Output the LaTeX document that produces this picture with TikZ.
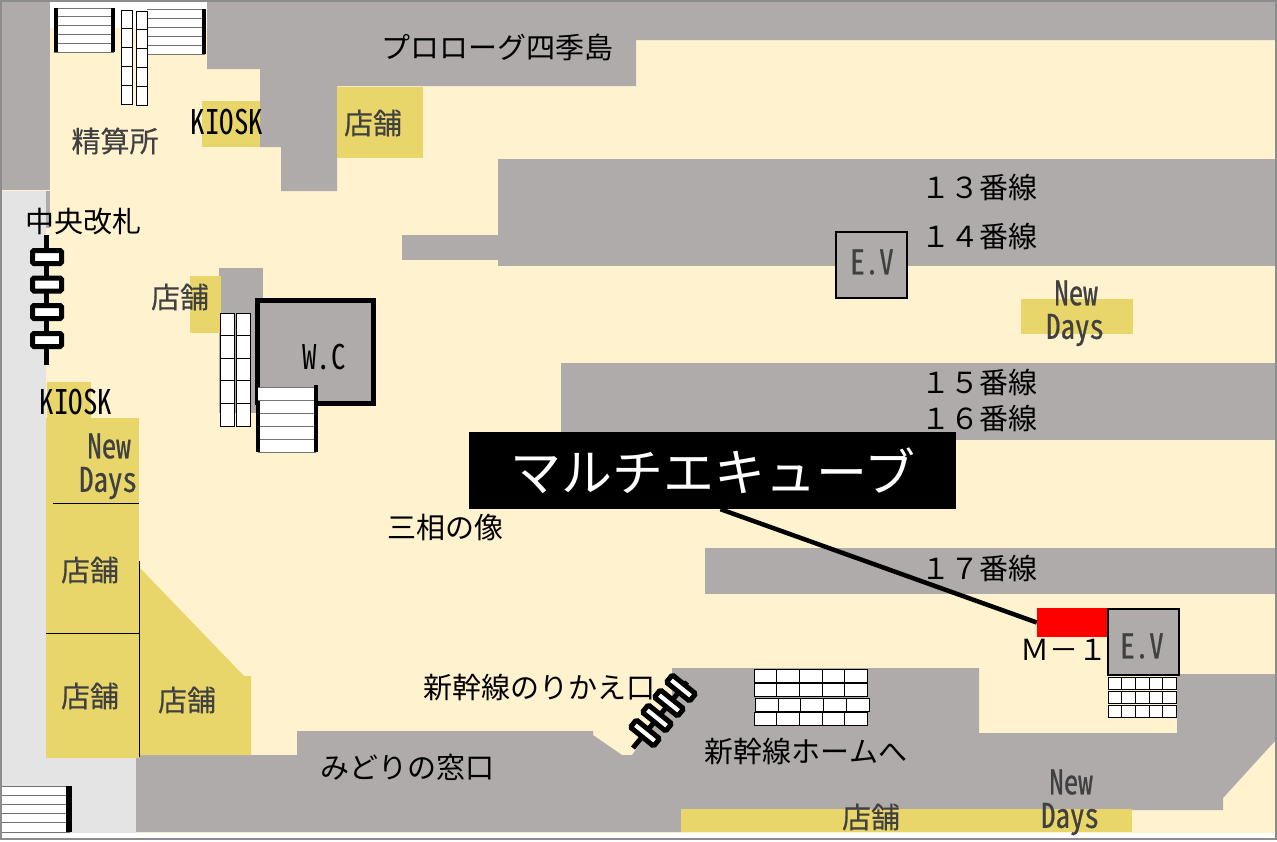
\documentclass[tikz,border=0pt]{standalone}
\usepackage{fontspec}
\usepackage{xcolor}
\setmainfont{Noto Sans CJK JP}
\newfontfamily\shopfont[FakeBold=0.3]{Noto Sans CJK JP}
\newfontfamily\halffont[RawFeature=+hwid,FakeStretch=0.85]{Noto Sans CJK JP}
\newfontfamily\halfbold[RawFeature=+hwid,FakeStretch=0.85,FakeBold=0.5]{Noto Sans CJK JP}
\definecolor{creamfloor}{HTML}{FFF2CF}
\definecolor{trackgray}{HTML}{AFABAB}
\definecolor{shopyellow}{HTML}{E9D66B}
\definecolor{palegray}{HTML}{E4E4E4}
\definecolor{framegray}{HTML}{8C8C8C}
\definecolor{shoptext}{HTML}{404040}
\tikzset{
	lbl/.style={inner sep=0pt, text=black, font=\fontsize{29}{34}\selectfont},
	shoplbl/.style={inner sep=0pt, text=shoptext, font=\shopfont\fontsize{29}{34}\selectfont},
	latinlbl/.style={inner sep=0pt, text=black, font=\halffont\fontsize{34}{40}\selectfont},
	shoplatin/.style={inner sep=0pt, text=shoptext, font=\halfbold\fontsize{34}{40}\selectfont},
	gatebar/.style={draw=black, fill=white, line width=5pt, rounded corners=1.5pt, minimum width=29pt, minimum height=13pt, inner sep=0pt},
	smallbar/.style={gatebar, minimum width=30pt, minimum height=9.5pt},
	stepline/.style={draw=black!55, line width=1pt},
	stepedge/.style={draw=black, line width=4pt},
	esccell/.style={draw=black, fill=white, line width=1pt},
	evbox/.style={draw=black, fill=trackgray, line width=2pt, inner sep=0pt}
}
\begin{document}
\begin{tikzpicture}[x=1pt,y=-1pt]
	\useasboundingbox (0,0) rectangle (1277,841);
	% floor
	\fill[white] (0,0) rectangle (1277,841);
	\fill[creamfloor] (2,28) rectangle (1275,833);
	\fill[white] (50,2) rectangle (207,28);
	\fill[trackgray] (2,2) rectangle (50,190);
	\fill[palegray] (2,191) -- (46,191) -- (46,758) -- (136,758) -- (136,833) -- (2,833) -- cycle;
	\fill[trackgray] (46,191) rectangle (50,228);
	% walls and platforms
	\fill[trackgray] (207,2) -- (1275,2) -- (1275,40) -- (636,40) -- (636,86) -- (337,86) -- (337,191) -- (281,191) -- (281,147) -- (260,147) -- (260,69) -- (207,69) -- cycle;
	\fill[trackgray] (498,159) rectangle (1275,266);
	\fill[trackgray] (402,235) rectangle (498,260);
	\fill[trackgray] (561,363) rectangle (1275,440);
	\fill[trackgray] (705,548) rectangle (1275,594);
	\fill[trackgray] (219,268) rectangle (263,413);
	\fill[trackgray] (136,755) -- (297,755) -- (297,731) -- (593,731) -- (593,735) -- (622,755) -- (632,755) -- (672,700) -- (672,668) -- (979,668) -- (979,733) -- (1177,733) -- (1177,674) -- (1275,674) -- (1275,741) -- (1223,798) -- (1223,810) -- (681,810) -- (681,832) -- (136,832) -- cycle;
	% shops
	\fill[shopyellow] (202,101) rectangle (260,147);
	\fill[shopyellow] (337,87) rectangle (423,158);
	\fill[shopyellow] (190,276) rectangle (221,333);
	\fill[shopyellow] (47,382) rectangle (91,418);
	\fill[shopyellow] (46,418) rectangle (139,758);
	\fill[shopyellow] (140,568) -- (244,676) -- (251,676) -- (251,755) -- (140,755) -- cycle;
	\fill[shopyellow] (1021,299) rectangle (1133,334);
	\fill[shopyellow] (681,809) rectangle (1132,832);
	\draw[line width=1pt] (53,503) -- (139,503);
	\draw[line width=1pt] (46,633.5) -- (139,633.5);
	\draw[line width=1pt] (139.5,561) -- (139.5,757);
	% W.C
	\draw[fill=trackgray, line width=5pt] (257.5,405) -- (257.5,300.5) -- (373.5,300.5) -- (373.5,403.5) -- (316,403.5);
	% stairs
	\fill[white] (54,8) rectangle (114,52);
	\foreach \i in {0,...,5} \draw[stepline] (54,8+8.8*\i) -- (114,8+8.8*\i);
	\draw[stepedge] (55.5,8) -- (55.5,52);
	\draw[stepedge] (112.5,8) -- (112.5,52);
	\fill[white] (147,9) rectangle (205,54);
	\foreach \i in {0,...,5} \draw[stepline] (147,9+9*\i) -- (205,9+9*\i);
	\draw[stepedge] (204,9) -- (204,54);
	\fill[white] (258,387) rectangle (316,452);
	\foreach \i in {0,...,5} \draw[stepline] (258,387+13*\i) -- (316,387+13*\i);
	\draw[stepedge] (257.5,401) -- (257.5,452);
	\draw[stepedge] (316,385) -- (316,452);
	\fill[white] (2,786) rectangle (70,832);
	\foreach \i in {0,...,5} \draw[stepline] (2,786+9.2*\i) -- (70,786+9.2*\i);
	\draw[line width=5.5pt] (69,786) -- (69,832);
	% escalators
	\foreach \xa/\ya in {121/10,136/11}
		\foreach \i in {0,...,4} \draw[esccell] (\xa,\ya+18.8*\i) rectangle +(11,18.8);
	\foreach \xa in {220.5,236.5}
		\foreach \i in {0,...,4} \draw[esccell] (\xa,313+22.6*\i) rectangle +(13.5,22.6);
	\foreach \xa/\ya in {754/669,754/683,755.5/698,754/712}
		\foreach \i in {0,...,4} \draw[esccell] (\xa+22.7*\i,\ya) rectangle +(22.7,13);
	\foreach \ya in {677,691,705}
		\foreach \i in {0,...,4} \draw[esccell] (1108+13.7*\i,\ya) rectangle +(13.7,12.5);
	% gates
	\coordinate (gatetop) at (46.5,235);
	\coordinate (gatebot) at (46.5,365);
	\draw[line width=5pt] (gatetop) -- (gatebot);
	\node[gatebar] (gate1) at (47,257) {};
	\node[gatebar] (gate2) at (47,284.5) {};
	\node[gatebar] (gate3) at (47,312) {};
	\node[gatebar] (gate4) at (47,340) {};
	\coordinate (shintop) at (687,682);
	\coordinate (shinbot) at (633,748);
	\draw[line width=5pt] (shintop) -- (shinbot);
	\node[smallbar, rotate=-39] (shin1) at (645,733) {};
	\node[smallbar, rotate=-39] (shin2) at (657,718) {};
	\node[smallbar, rotate=-39] (shin3) at (669,703) {};
	\node[smallbar, rotate=-39] (shin4) at (681,688) {};
	% elevators
	\node[evbox, minimum width=71pt, minimum height=66pt] (ev1) at (871,264.5) {};
	\node[evbox, minimum width=71pt, minimum height=66pt] (ev2) at (1143.5,641.5) {};
	\node[shoplatin] (ev1text) at (872,262) {E.V};
	\node[shoplatin] (ev2text) at (1142,646) {E.V};
	% multicube
	\fill[red] (1037,608) rectangle (1107,637);
	\node[inner sep=0pt, minimum width=70pt, minimum height=29pt] (cubemark) at (1072,622.5) {};
	\node[fill=black, text=white, inner sep=0pt, minimum width=487pt, minimum height=77pt, font=\fontsize{51}{60}\selectfont] (cube) at (712.5,470.5) {マルチエキューブ};
	\draw[line width=4.5pt] ([xshift=8pt]cube.south) -- (cubemark.west);
	% labels
	\node[lbl] (prologue) at (497,47) {プロローグ四季島};
	\node[lbl] (track13) at (979,187) {１３番線};
	\node[lbl] (track14) at (979,236) {１４番線};
	\node[lbl] (track15) at (979,382) {１５番線};
	\node[lbl] (track16) at (979,418) {１６番線};
	\node[lbl] (track17) at (979,568) {１７番線};
	\node[lbl] (central) at (83,222) {中央改札};
	\node[lbl] (sanso) at (445,527) {三相の像};
	\node[lbl] (transfer) at (539,688) {新幹線のりかえ口};
	\node[lbl] (shinhome) at (806,752) {新幹線ホームへ};
	\node[lbl] (midori) at (407,767) {みどりの窓口};
	\node[lbl] (m1) at (1064,650) {Ｍ－１};
	\node[shoplbl] (seisan) at (115,141) {精算所};
	\node[latinlbl] (kiosk1) at (227,122) {KIOSK};
	\node[latinlbl] (kiosk2) at (76,402) {KIOSK};
	\node[latinlbl] (wc) at (324,357) {W.C};
	\node[shoplbl] (shop1) at (373,123) {店舗};
	\node[shoplbl] (shop2) at (180,297) {店舗};
	\node[shoplbl] (shop3) at (90,570) {店舗};
	\node[shoplbl] (shop4) at (90,696) {店舗};
	\node[shoplbl] (shop5) at (187,700) {店舗};
	\node[shoplbl] (shop6) at (871,817) {店舗};
	\node[shoplatin] (new1) at (109,446) {New};
	\node[shoplatin] (days1) at (108,483) {Days};
	\node[shoplatin] (new2) at (1076,293) {New};
	\node[shoplatin] (days2) at (1075,330) {Days};
	\node[shoplatin] (new3) at (1071,782) {New};
	\node[shoplatin] (days3) at (1070,819) {Days};
	% frame
	\draw[framegray, line width=2pt] (1,1) rectangle (1276,839);
\end{tikzpicture}
\end{document}
